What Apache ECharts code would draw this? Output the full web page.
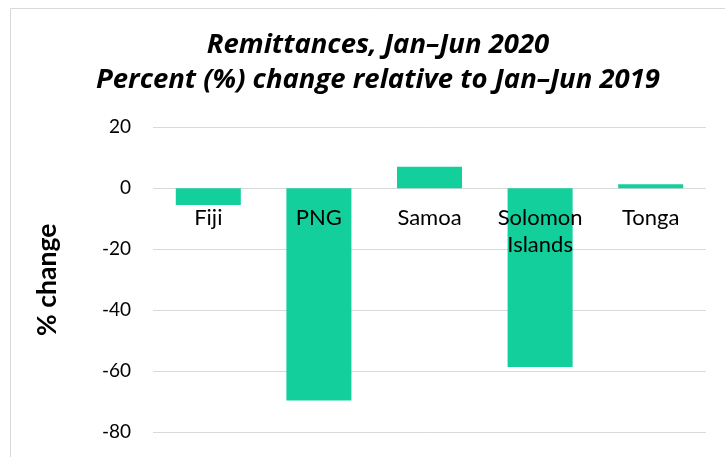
<!DOCTYPE html>
<html><head><meta charset="utf-8">
<script src="https://cdn.jsdelivr.net/npm/echarts@6/dist/echarts.min.js"></script>
<style>html,body{margin:0;padding:0;background:#fff}#c{width:725px;height:457px}</style>
</head><body><div id="c"></div>
<script>
const categories = ['Fiji', 'PNG', 'Samoa', 'Solomon\nIslands', 'Tonga'];
const values = [-5.5, -69.6, 7.1, -58.6, 1.3];
const titleText = 'Remittances, Jan\u2013Jun 2020\nPercent (%) change relative to Jan\u2013Jun 2019';
const yName = '% change';

const chart = echarts.init(document.getElementById('c'), null, {renderer: 'canvas'});
chart.setOption({
  animation: false,
  backgroundColor: '#fff',
  graphic: [{
    type: 'rect', shape: {x: 10.5, y: 8.5, width: 800, height: 600},
    style: {fill: 'none', stroke: '#d9d9d9', lineWidth: 1}, silent: true
  }],
  title: {
    text: titleText, left: 373, top: 23, textAlign: 'center',
    textStyle: {fontFamily: 'Open Sans', fontWeight: 'bold', fontStyle: 'italic', fontSize: 27.5, lineHeight: 35, color: '#000'}
  },
  grid: {left: 153, right: 19, top: 127.3, height: 305, containLabel: false, outerBoundsMode: 'none'},
  xAxis: {
    type: 'category', data: categories,
    offset: -244, z: 10,
    axisLine: {show: false, onZero: false},
    axisTick: {show: false},
    axisLabel: {fontFamily: 'Lato', fontSize: 22, color: '#000', margin: 16, lineHeight: 27, interval: 0}
  },
  yAxis: {
    type: 'value', min: -80, max: 20, interval: 20,
    name: yName, nameLocation: 'middle', nameGap: 92, nameRotate: 90,
    nameTextStyle: {fontFamily: 'Lato', fontWeight: 'bold', fontSize: 26.5, color: '#000'},
    axisLine: {show: false}, axisTick: {show: false},
    axisLabel: {fontFamily: 'Lato', fontSize: 19, color: '#000', margin: 22},
    splitLine: {lineStyle: {color: '#d9d9d9', width: 1}}
  },
  series: [{
    type: 'bar', data: values, barWidth: '58.8%',
    itemStyle: {color: '#13CF9C'}
  }]
});
</script></body></html>
